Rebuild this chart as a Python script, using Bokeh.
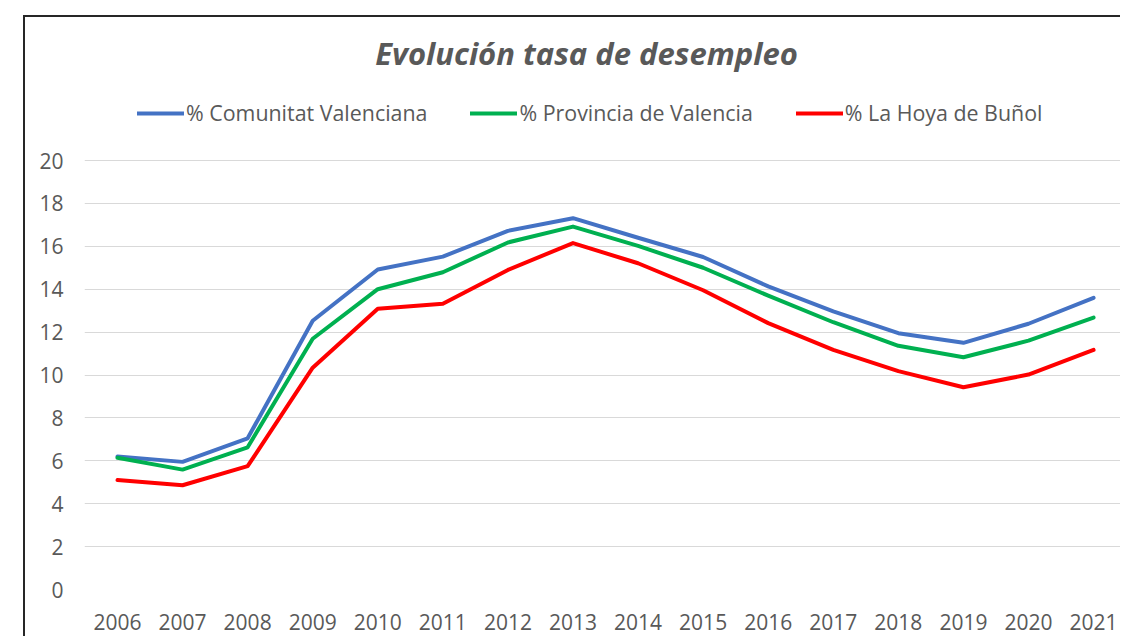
from bokeh.plotting import figure
from bokeh.models import Range1d, FixedTicker, Legend, LegendItem, Label, Spacer
from bokeh.layouts import column, row
from bokeh.embed import file_html
from bokeh.resources import INLINE

years = [2006, 2007, 2008, 2009, 2010, 2011, 2012, 2013, 2014, 2015, 2016, 2017, 2018, 2019, 2020, 2021]
year_labels = [str(y) for y in years]
comunitat = [6.2, 5.95, 7.05, 12.53, 14.92, 15.52, 16.72, 17.31, 16.4, 15.5, 14.13, 12.97, 11.95, 11.5, 12.39, 13.6]
provincia = [6.14, 5.59, 6.63, 11.69, 14.0, 14.79, 16.18, 16.92, 16.02, 15.0, 13.7, 12.46, 11.36, 10.83, 11.6, 12.68]
hoya = [5.1, 4.86, 5.75, 10.34, 13.09, 13.32, 14.9, 16.15, 15.21, 13.95, 12.42, 11.17, 10.18, 9.43, 10.02, 11.17]
series_names = ["% Comunitat Valenciana", "% Provincia de Valencia", "% La Hoya de Buñol"]
series_colors = ["#4472C4", "#00B050", "#FF0000"]
y_ticks = [0, 2, 4, 6, 8, 10, 12, 14, 16, 18, 20]
title_text = "Evolución tasa de desempleo"

FONT = "Open Sans"
GRAY = "#595959"
BORDER = "#262626"

p = figure(width=1095, height=619,
           x_range=Range1d(2005.493, 2021.414), y_range=Range1d(0, 26.667),
           output_backend="svg", toolbar_location=None,
           min_border_left=59, min_border_right=0, min_border_top=0, min_border_bottom=47)
p.outline_line_color = None
p.background_fill_color = "white"
p.border_fill_color = "white"

p.xgrid.visible = False
p.ygrid.grid_line_color = "#D9D9D9"
p.ygrid.grid_line_width = 1

for ax in (p.xaxis[0], p.yaxis[0]):
    ax.axis_line_color = None
    ax.major_tick_line_color = None
    ax.minor_tick_line_color = None
    ax.major_label_text_font = FONT
    ax.major_label_text_font_size = "21px"
    ax.major_label_text_color = GRAY

p.yaxis.ticker = FixedTicker(ticks=y_ticks)
p.yaxis.major_label_standoff = 15
p.xaxis.ticker = FixedTicker(ticks=years)
p.xaxis.major_label_overrides = {y: lab for y, lab in zip(years, year_labels)}
p.xaxis.major_label_standoff = 18

renderers = []
for vals, col in zip([comunitat, provincia, hoya], series_colors):
    r = p.line(years, vals, line_width=4, line_color=col, line_join="round", line_cap="round")
    renderers.append(r)

legend = Legend(items=[LegendItem(label=n, renderers=[r]) for n, r in zip(series_names, renderers)],
                orientation="horizontal", location=(53, 462),
                glyph_width=47, glyph_height=20, label_standoff=2, spacing=43,
                padding=0, margin=0, border_line_color=None, background_fill_alpha=0,
                label_text_font=FONT, label_text_font_size="21.4px", label_text_color=GRAY)
p.add_layout(legend, "center")

p.add_layout(Label(x=502, y=537, x_units="screen", y_units="screen", text=title_text,
                   text_align="center", text_baseline="alphabetic",
                   text_font=FONT, text_font_style="bold italic", text_font_size="31px",
                   text_color=GRAY))

left_bar = Spacer(width=2, height=621, styles={"background-color": BORDER})
top_bar = Spacer(width=1095, height=2, styles={"background-color": BORDER})
layout = column(Spacer(width=10, height=15),
                row(Spacer(width=23, height=10), left_bar, column(top_bar, p)))

open("out.html", "w").write(file_html(layout, INLINE))
